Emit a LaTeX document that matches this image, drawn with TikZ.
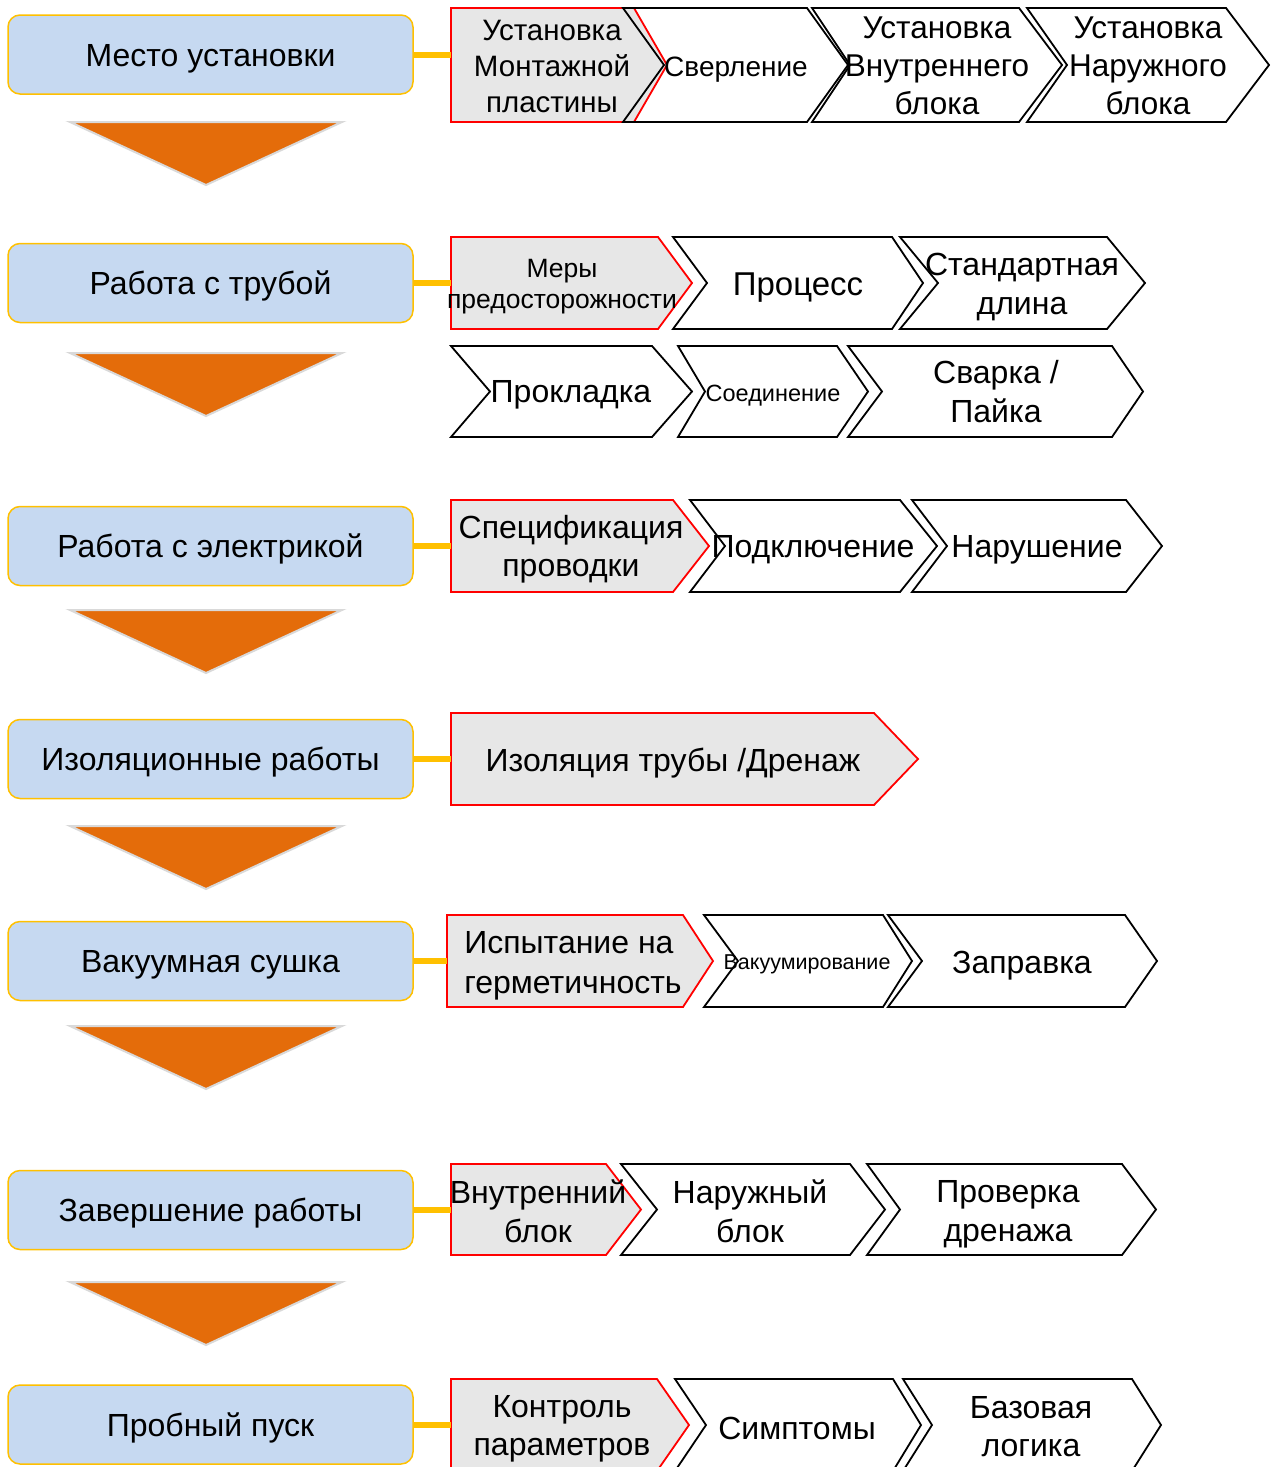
\documentclass[tikz,border=0pt]{standalone}
\usepackage{fontspec}
\setmainfont{Liberation Sans}
\usetikzlibrary{positioning,calc}
\definecolor{stagefill}{RGB}{198,217,241}
\definecolor{stageline}{RGB}{255,192,0}
\definecolor{arrowor}{RGB}{228,108,10}
\definecolor{keyfill}{RGB}{231,231,231}
\definecolor{keyline}{RGB}{255,0,0}
\definecolor{arrowedge}{RGB}{217,217,217}

\newcommand{\fz}[2]{\fontsize{#1}{#2}\selectfont}
% chevron: style, name, left x, notch x, body right x, tip x, top y, bottom y
\newcommand{\chev}[8]{%
  \draw[#1] (#3,#7) -- (#5,#7) -- (#6,{(#7+#8)/2}) -- (#5,#8) -- (#3,#8)
    -- (#4,{(#7+#8)/2}) -- cycle;
  \coordinate (#2) at (#3,{(#7+#8)/2});
}

\tikzset{
  stage/.style={draw=stageline, line width=1.5pt, fill=stagefill,
    rounded corners=12pt, minimum width=405pt, minimum height=79pt,
    font=\fz{32}{38}, inner sep=0pt, text height=23pt, text depth=0pt},
  keystep/.style={draw=keyline, fill=keyfill, line width=1.8pt},
  substep/.style={draw=black, line width=1.8pt},
  link/.style={draw=stageline, line width=6pt},
  lbl/.style={align=center, inner sep=0pt},
}

\begin{document}
\begin{tikzpicture}[x=1pt, y=-1pt]
  \useasboundingbox (0,0) rectangle (1270,1467);
  \clip (0,0) rectangle (1270,1467);

  % stages on the left
  \foreach \n/\y/\t in {s1/54.5/Место установки, s2/283/Работа с трубой,
      s3/546/Работа с электрикой, s4/759/Изоляционные работы,
      s5/961/Вакуумная сушка, s6/1210/Завершение работы, s7/1424.5/Пробный пуск}
    \node[stage] (\n) at (210.5,\y) {\t};

  % down arrows
  \foreach \t in {122,353,610,826,1026,1282}
    \draw[arrowedge, line width=2pt, fill=arrowor] (70,\t) -- (342,\t) -- (206,{\t+63}) -- cycle;

  % step chevrons
  \chev{keystep}{k1}{451}{451}{634}{667}{8}{122}
  \chev{substep}{c12}{623}{664}{807}{848}{8}{122}
  \chev{substep}{c13}{812}{850}{1019}{1062}{8}{122}
  \chev{substep}{c14}{1027}{1067}{1226}{1269}{8}{122}

  \chev{keystep}{k2}{451}{451}{658}{692}{237}{329}
  \chev{substep}{c22}{673}{707}{892}{923}{237}{329}
  \chev{substep}{c23}{900}{938}{1107}{1145}{237}{329}
  \chev{substep}{c24}{451}{490}{652}{692}{346}{437}
  \chev{substep}{c25}{678}{705}{837}{868}{346}{437}
  \chev{substep}{c26}{848}{882}{1112}{1143}{346}{437}

  \chev{keystep}{k3}{451}{451}{673}{709}{500}{592}
  \chev{substep}{c32}{690}{725}{900}{937}{500}{592}
  \chev{substep}{c33}{912}{947}{1126}{1162}{500}{592}

  \chev{keystep}{k4}{451}{451}{874}{918}{713}{805}

  \chev{keystep}{k5}{447}{447}{683}{713}{915}{1007}
  \chev{substep}{c52}{704}{738}{883}{912}{915}{1007}
  \chev{substep}{c53}{888}{922}{1125}{1157}{915}{1007}

  \chev{keystep}{k6}{451}{451}{606}{641}{1164}{1255}
  \chev{substep}{c62}{621}{657}{850}{885}{1164}{1255}
  \chev{substep}{c63}{867}{900}{1122}{1156}{1164}{1255}

  \chev{keystep}{k7}{451}{451}{657}{689}{1379}{1471}
  \chev{substep}{c72}{675}{706}{893}{921}{1379}{1471}
  \chev{substep}{c73}{903}{932}{1132}{1161}{1379}{1471}

  % links from stages to their first step
  \foreach \s/\k in {s1/k1, s2/k2, s3/k3, s4/k4, s5/k5, s6/k6, s7/k7}
    \draw[link] (\s.east) -- (\s.east -| \k);

  % step labels
  \node[lbl, font=\fz{29.5}{36}] (t11) at (552,66) {Установка\\Монтажной\\пластины};
  \node[lbl, font=\fz{28}{36}] (t12) at (736,70) {Сверление};
  \node[lbl, font=\fz{31.5}{38}] (t13) at (937,66) {Установка\\Внутреннего\\блока};
  \node[lbl, font=\fz{31.5}{38}] (t14) at (1148,66) {Установка\\Наружного\\блока};

  \node[lbl, font=\fz{26.5}{31}] (t21) at (562,287) {Меры\\предосторожности};
  \node[lbl, font=\fz{33}{39}] (t22) at (798,288) {Процесс};
  \node[lbl, font=\fz{32}{39}] (t23) at (1022,287) {Стандартная\\длина};
  \node[lbl, font=\fz{32}{39}] (t24) at (571,395) {Прокладка};
  \node[lbl, font=\fz{23.5}{28}] (t25) at (773,396) {Соединение};
  \node[lbl, font=\fz{32}{39}] (t26) at (996,392) {Сварка /\\Пайка};

  \node[lbl, font=\fz{32}{38}] (t31) at (571,549) {Спецификация\\проводки};
  \node[lbl, font=\fz{32}{38}] (t32) at (813,550) {Подключение};
  \node[lbl, font=\fz{32}{38}] (t33) at (1037,550) {Нарушение};

  \node[lbl, font=\fz{32}{38}] (t41) at (673,763) {Изоляция трубы /Дренаж};

  \node[lbl, align=left, font=\fz{32}{40}] (t51) at (573,966) {Испытание на\\герметичность};
  \node[lbl, font=\fz{21.5}{26}] (t52) at (807,964) {Вакуумирование};
  \node[lbl, font=\fz{32}{39}] (t53) at (1022,966) {Заправка};

  \node[lbl, font=\fz{32}{39}] (t61) at (538,1211) {Внутренний\\блок};
  \node[lbl, font=\fz{32}{39}] (t62) at (750,1211) {Наружный\\блок};
  \node[lbl, font=\fz{32}{39}] (t63) at (1008,1214) {Проверка\\дренажа};

  \node[lbl, font=\fz{32}{38}] (t71) at (562,1429) {Контроль\\параметров};
  \node[lbl, font=\fz{32}{38}] (t72) at (797,1428) {Симптомы};
  \node[lbl, font=\fz{32}{38}] (t73) at (1031,1427) {Базовая\\логика};
\end{tikzpicture}
\end{document}
